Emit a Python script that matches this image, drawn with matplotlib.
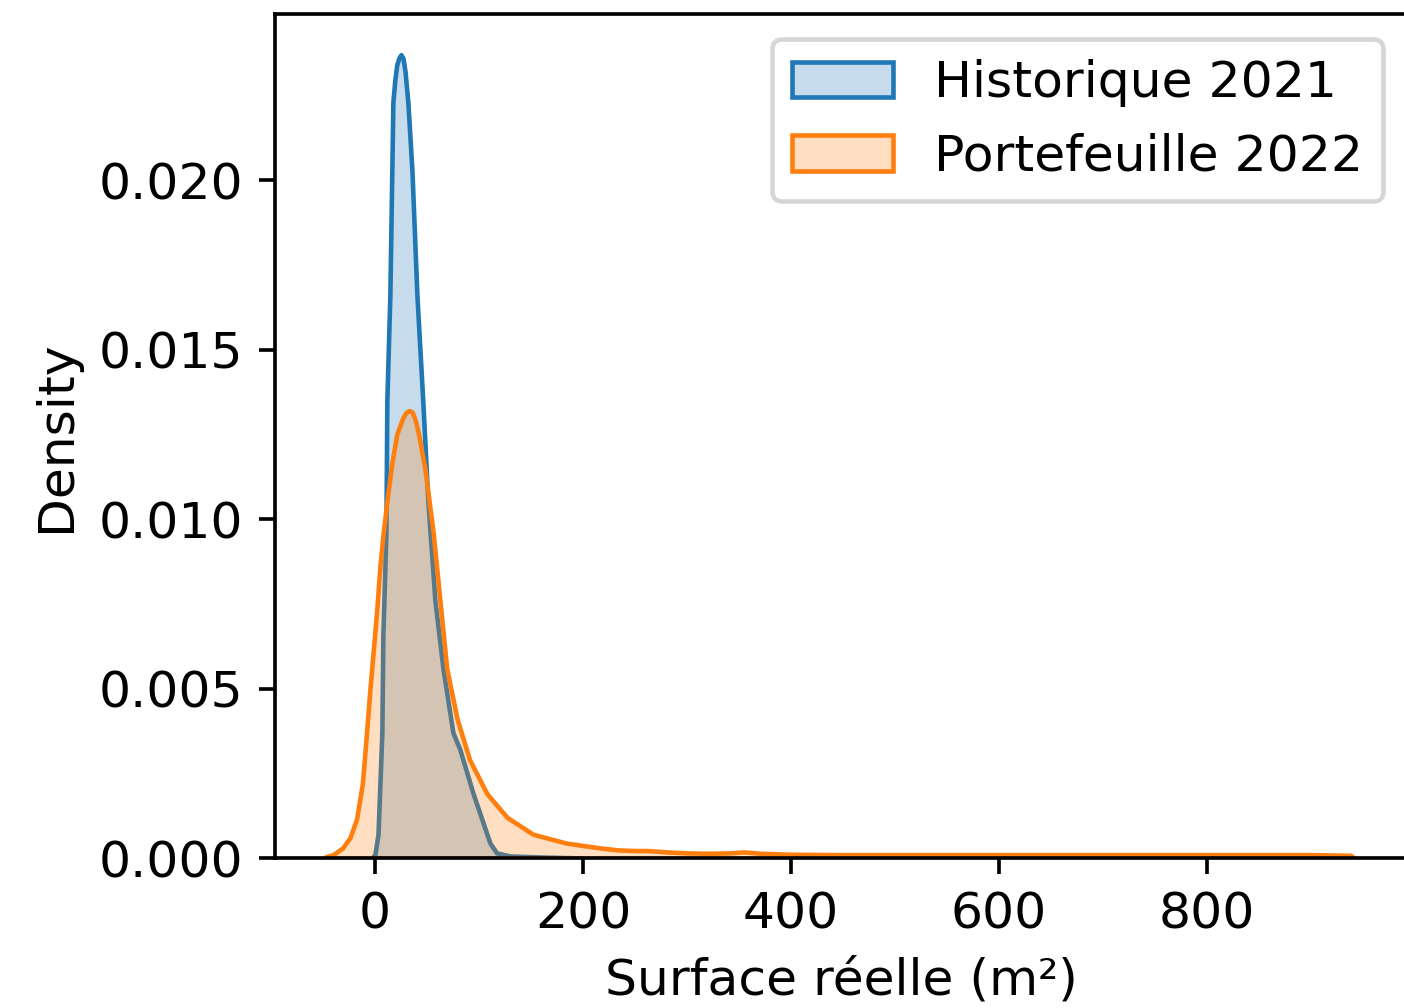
import matplotlib
matplotlib.use('Agg')
import matplotlib.pyplot as plt
import numpy as np

# density curves (surface in m², density)
hist_x = [-3, 0, 3, 6.7, 7.7, 10.6, 11.5, 14.4, 16.3, 17.3, 19, 21, 23, 25, 27,
          29, 31.7, 35.6, 40.4, 46, 51, 57.7, 65.4, 75, 81.7, 94.4, 110.6, 117,
          130, 160, 200]
hist_y = [0, 0.0001, 0.0007, 0.0037, 0.0066, 0.0096, 0.0135, 0.0166, 0.0203,
          0.0223, 0.0229, 0.0234, 0.0236, 0.0237, 0.0236, 0.0232, 0.0223,
          0.0203, 0.0166, 0.0135, 0.0105, 0.0076, 0.0056, 0.0037, 0.0032,
          0.0019, 0.00044, 0.00015, 0.00006, 0.00003, 0]

port_x = [-50, -46, -40, -31, -24, -17.6, -12, -8, -5, -1.6, 2, 4.8, 8, 11.5,
          16, 21, 27, 30, 33, 36, 39, 42, 48, 56, 62.5, 69, 79, 91, 107.6, 127,
          152, 184, 216, 233, 250, 262, 280, 300, 320, 340, 355, 370, 400, 450,
          500, 600, 700, 800, 900, 938, 941]
port_y = [0, 0.00005, 0.0001, 0.0003, 0.0006, 0.00115, 0.0022, 0.0037, 0.0049,
          0.0061, 0.0074, 0.0086, 0.0096, 0.0105, 0.0116, 0.0125, 0.0130,
          0.01315, 0.0132, 0.01315, 0.0129, 0.0125, 0.0115, 0.0096, 0.0076,
          0.0056, 0.0041, 0.0029, 0.0019, 0.0012, 0.0007, 0.00044, 0.0003,
          0.00024, 0.00022, 0.00022, 0.00018, 0.00015, 0.00014, 0.00015,
          0.00018, 0.00014, 0.00011, 0.0001, 0.0001, 0.0001, 0.0001, 0.0001,
          0.0001, 0.00008, 0]

labels = ['Historique 2021', 'Portefeuille 2022']
colors = ['#1f77b4', '#ff7f0e']

plt.rcParams['font.size'] = 11

fig = plt.figure(figsize=(1404 / 330, 1008 / 330), dpi=330)
ax = fig.add_axes([275 / 1404, 150 / 1008, 1133 / 1404, 844 / 1008])

for xs, ys, lab, col in zip([hist_x, port_x], [hist_y, port_y], labels, colors):
    ax.fill_between(xs, ys, 0, facecolor=matplotlib.colors.to_rgba(col, 0.25),
                    edgecolor=col, linewidth=1.0, label=lab)

ax.set_xlim(-96, 993)
ax.set_ylim(0, 0.0249)
ax.set_xticks([0, 200, 400, 600, 800])
ax.set_yticks([0, 0.005, 0.01, 0.015, 0.02])
ax.set_xlabel('Surface réelle (m²)')
ax.set_ylabel('Density')
ax.legend(loc='upper right')

fig.savefig('out.png', dpi=330)
